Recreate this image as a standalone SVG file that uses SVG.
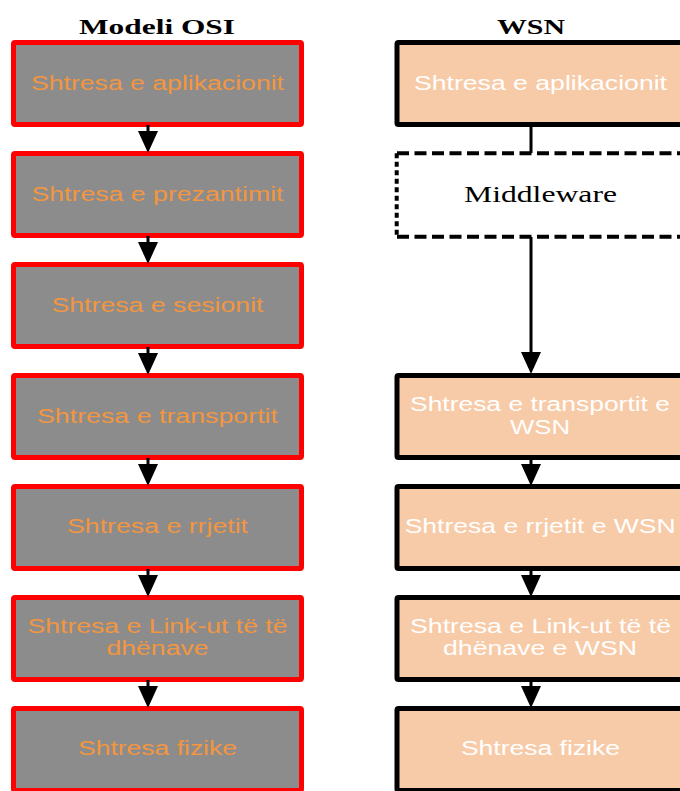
<svg xmlns="http://www.w3.org/2000/svg" width="680" height="791" viewBox="0 0 680 791">
  <style>
    .osi { fill: #8C8C8C; stroke: #FF0000; stroke-width: 5; }
    .wsn { fill: #F8CBA8; stroke: #000000; stroke-width: 5; }
    .lbl { font-family: "Liberation Sans", Arial, sans-serif; font-size: 19.5px; text-anchor: middle; }
    .osi-t { fill: #F3963F; }
    .wsn-t { fill: #FFFFFF; }
    .title { font-family: "Liberation Serif", "Times New Roman", serif; font-size: 22px; font-weight: bold; text-anchor: middle; fill: #000; }
    .mw { font-family: "Liberation Serif", "Times New Roman", serif; font-size: 23.5px; text-anchor: middle; fill: #000; }
    .conn { stroke: #000; stroke-width: 3; fill: none; }
    .dash { stroke: #000; stroke-width: 4; fill: none; stroke-dasharray: 12 5.5; }
    .dots { stroke: #000; stroke-width: 4; fill: none; stroke-dasharray: 5 3.5; }
  </style>
  <defs>
    <marker id="head" markerUnits="userSpaceOnUse" markerWidth="22" markerHeight="20" refX="0" refY="10" orient="auto" viewBox="0 0 22 20">
      <path d="M0,0 L22,10 L0,20 Z" fill="#000"/>
    </marker>
  </defs>

  <!-- column headings -->
  <text class="title" x="157" y="34" textLength="156" lengthAdjust="spacingAndGlyphs">Modeli OSI</text>
  <text class="title" x="531" y="34" textLength="68" lengthAdjust="spacingAndGlyphs">WSN</text>

  <!-- OSI stack -->
  <g id="osi-app">
    <rect class="osi" x="13.5" y="42.5" width="288" height="82" rx="1.5"/>
    <text class="lbl osi-t" x="157.5" y="90" textLength="253" lengthAdjust="spacingAndGlyphs">Shtresa e aplikacionit</text>
  </g>
  <g id="osi-pres">
    <rect class="osi" x="13.5" y="153.5" width="288" height="82" rx="1.5"/>
    <text class="lbl osi-t" x="157.5" y="201" textLength="252" lengthAdjust="spacingAndGlyphs">Shtresa e prezantimit</text>
  </g>
  <g id="osi-sess">
    <rect class="osi" x="13.5" y="264.5" width="288" height="82" rx="1.5"/>
    <text class="lbl osi-t" x="157.5" y="312" textLength="212" lengthAdjust="spacingAndGlyphs">Shtresa e sesionit</text>
  </g>
  <g id="osi-trans">
    <rect class="osi" x="13.5" y="375.5" width="288" height="82" rx="1.5"/>
    <text class="lbl osi-t" x="157.5" y="423" textLength="241" lengthAdjust="spacingAndGlyphs">Shtresa e transportit</text>
  </g>
  <g id="osi-net">
    <rect class="osi" x="13.5" y="486.5" width="288" height="82" rx="1.5"/>
    <text class="lbl osi-t" x="157.5" y="533" textLength="181" lengthAdjust="spacingAndGlyphs">Shtresa e rrjetit</text>
  </g>
  <g id="osi-link">
    <rect class="osi" x="13.5" y="597.5" width="288" height="82" rx="1.5"/>
    <text class="lbl osi-t" x="157.5" y="633" textLength="260" lengthAdjust="spacingAndGlyphs">Shtresa e Link-ut të të</text>
    <text class="lbl osi-t" x="157.5" y="655" textLength="102" lengthAdjust="spacingAndGlyphs">dhënave</text>
  </g>
  <g id="osi-phys">
    <rect class="osi" x="13.5" y="708.5" width="288" height="82" rx="1.5"/>
    <text class="lbl osi-t" x="157.5" y="755" textLength="159" lengthAdjust="spacingAndGlyphs">Shtresa fizike</text>
  </g>

  <!-- WSN stack -->
  <g id="wsn-app">
    <rect class="wsn" x="397" y="42.5" width="288" height="82" rx="1.5"/>
    <text class="lbl wsn-t" x="540.5" y="90" textLength="253" lengthAdjust="spacingAndGlyphs">Shtresa e aplikacionit</text>
  </g>
  <g id="wsn-middleware">
    <path class="dash" d="M397,153.3 H690"/>
    <path class="dash" d="M397,236.7 H690"/>
    <path class="dots" d="M396.7,153.3 V236.7"/>
    <text class="mw" x="540.5" y="202" textLength="153" lengthAdjust="spacingAndGlyphs">Middleware</text>
  </g>
  <g id="wsn-trans">
    <rect class="wsn" x="397" y="375.5" width="288" height="82" rx="1.5"/>
    <text class="lbl wsn-t" x="540" y="411" textLength="260" lengthAdjust="spacingAndGlyphs">Shtresa e transportit e</text>
    <text class="lbl wsn-t" x="540" y="433.5" textLength="60" lengthAdjust="spacingAndGlyphs">WSN</text>
  </g>
  <g id="wsn-net">
    <rect class="wsn" x="397" y="486.5" width="288" height="82" rx="1.5"/>
    <text class="lbl wsn-t" x="540.2" y="533.3" textLength="271" lengthAdjust="spacingAndGlyphs">Shtresa e rrjetit e WSN</text>
  </g>
  <g id="wsn-link">
    <rect class="wsn" x="397" y="597.5" width="288" height="82" rx="1.5"/>
    <text class="lbl wsn-t" x="540.5" y="633" textLength="261" lengthAdjust="spacingAndGlyphs">Shtresa e Link-ut të të</text>
    <text class="lbl wsn-t" x="540" y="655" textLength="194" lengthAdjust="spacingAndGlyphs">dhënave e WSN</text>
  </g>
  <g id="wsn-phys">
    <rect class="wsn" x="397" y="708.5" width="288" height="82" rx="1.5"/>
    <text class="lbl wsn-t" x="540.4" y="755" textLength="159" lengthAdjust="spacingAndGlyphs">Shtresa fizike</text>
  </g>

  <!-- connectors -->
  <g id="connectors">
    <path class="conn" d="M148,125 V131" marker-end="url(#head)"/>
    <path class="conn" d="M148,236 V242" marker-end="url(#head)"/>
    <path class="conn" d="M148,347 V353" marker-end="url(#head)"/>
    <path class="conn" d="M148,458 V464" marker-end="url(#head)"/>
    <path class="conn" d="M148,569 V575" marker-end="url(#head)"/>
    <path class="conn" d="M148,680 V686" marker-end="url(#head)"/>

    <path class="conn" d="M531,125 V153"/>
    <path class="conn" d="M531,237 V352" marker-end="url(#head)"/>
    <path class="conn" d="M531,458 V464" marker-end="url(#head)"/>
    <path class="conn" d="M531,569 V575" marker-end="url(#head)"/>
    <path class="conn" d="M531,680 V686" marker-end="url(#head)"/>
  </g>
</svg>
